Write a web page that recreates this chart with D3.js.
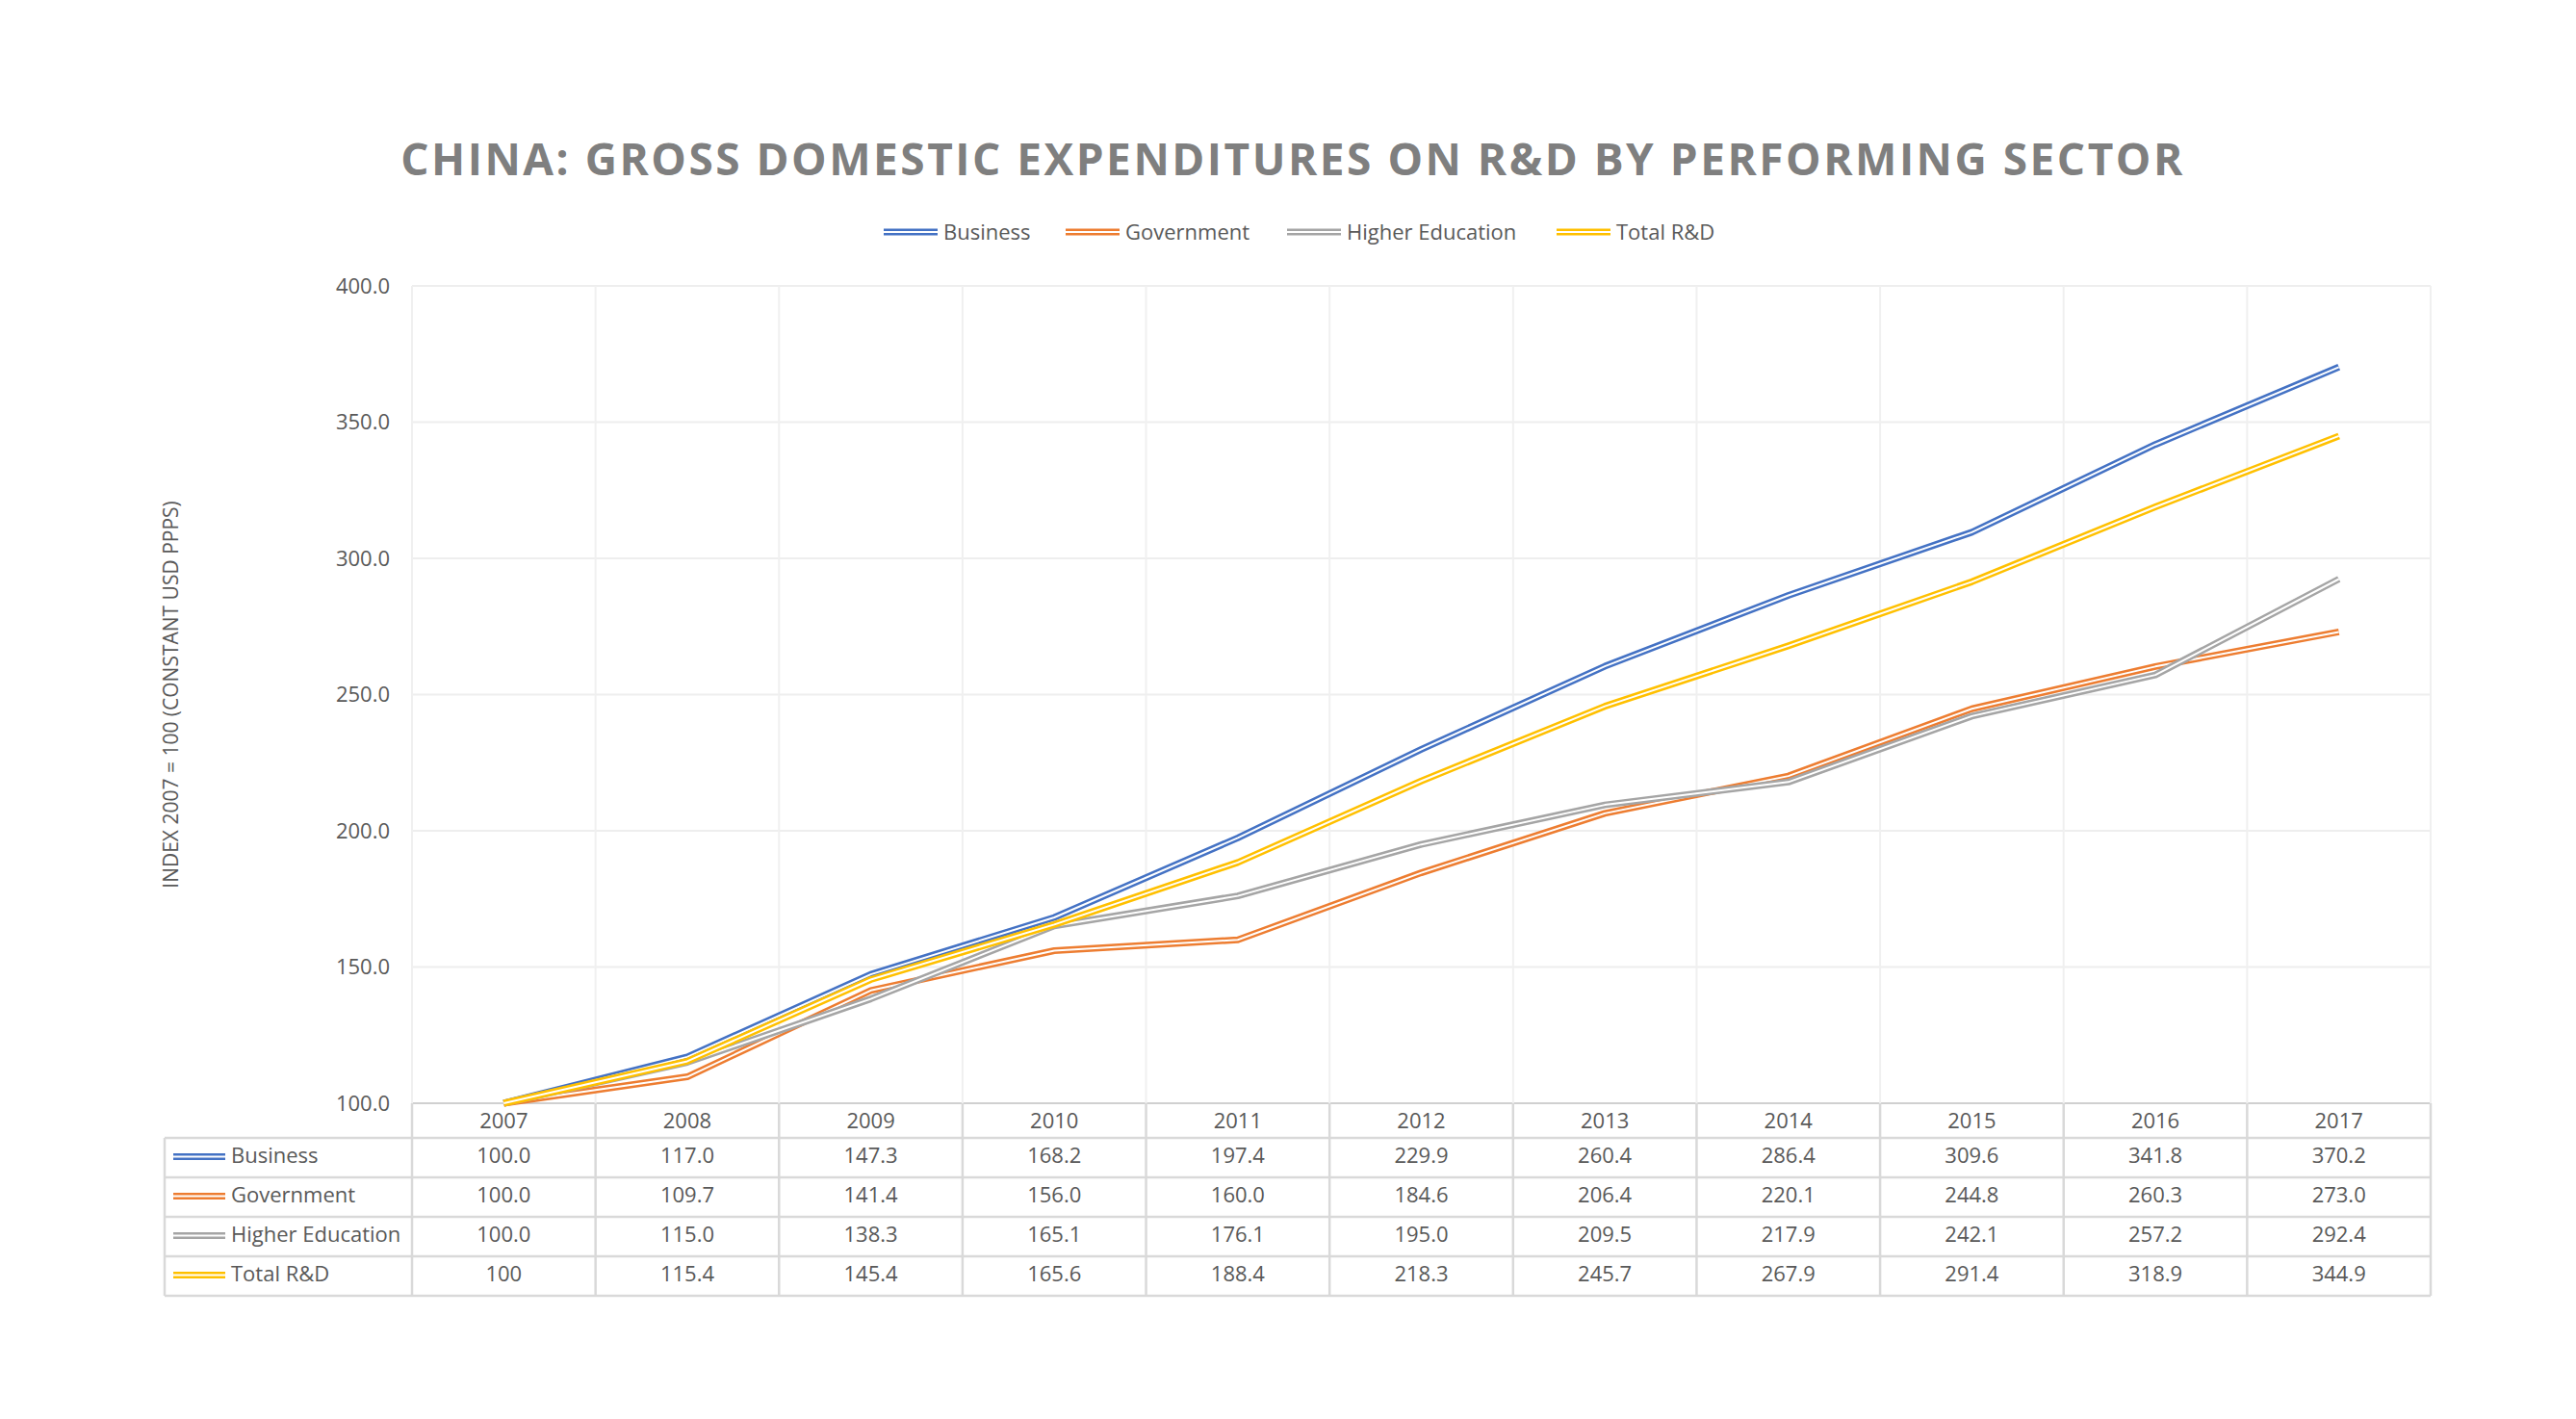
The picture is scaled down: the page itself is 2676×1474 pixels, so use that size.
<!DOCTYPE html>
<html><head><meta charset="utf-8">
<script src="https://cdn.jsdelivr.net/npm/d3@7"></script>
<style>body{margin:0;background:#fff}text{font-family:"Open Sans","Noto Sans",sans-serif}</style>
</head><body>
<script>
const years = ['2007','2008','2009','2010','2011','2012','2013','2014','2015','2016','2017'];
const business = [100.0,117.0,147.3,168.2,197.4,229.9,260.4,286.4,309.6,341.8,370.2];
const government = [100.0,109.7,141.4,156.0,160.0,184.6,206.4,220.1,244.8,260.3,273.0];
const higherEd = [100.0,115.0,138.3,165.1,176.1,195.0,209.5,217.9,242.1,257.2,292.4];
const totalRD = [100,115.4,145.4,165.6,188.4,218.3,245.7,267.9,291.4,318.9,344.9];
const seriesNames = ['Business','Government','Higher Education','Total R&D'];
const seriesColors = ['#4472C4','#ED7D31','#A5A5A5','#FFC000'];
const seriesValues = [business, government, higherEd, totalRD];
const yTicks = [100,150,200,250,300,350,400];
const labelsTotal = ['100','115.4','145.4','165.6','188.4','218.3','245.7','267.9','291.4','318.9','344.9'];

const W = 2676, H = 1474;
const L = 428, R = 2525, T = 297, B = 1146, tableL = 171;
const rowH = 41;
const rowTops = [1182, 1223, 1264, 1305];

const svg = d3.select('body').append('svg').attr('width', W).attr('height', H);
const x = d3.scaleBand().domain(years).range([L, R]);
const y = d3.scaleLinear().domain([100, 400]).range([B, T]);
const txt = '#595959';

// grid
svg.append('g').selectAll('line').data(yTicks).join('line')
  .attr('x1', L).attr('x2', R).attr('y1', d => y(d)).attr('y2', d => y(d))
  .attr('stroke', d => d === 100 ? '#d0d0d0' : '#eeeeee').attr('stroke-width', 2);
svg.append('g').selectAll('line').data(years.concat(['end'])).join('line')
  .attr('x1', (d, i) => L + i * x.step()).attr('x2', (d, i) => L + i * x.step())
  .attr('y1', T).attr('y2', B).attr('stroke', '#f0f0f0').attr('stroke-width', 2);

// y labels
svg.append('g').selectAll('text').data(yTicks).join('text')
  .attr('x', 405).attr('y', d => y(d)).attr('dy', '0.35em').attr('text-anchor', 'end')
  .attr('font-size', 22).attr('fill', txt).text(d => d.toFixed(1));
svg.append('text').attr('transform', `translate(185,${(T + B) / 2}) rotate(-90)`)
  .attr('text-anchor', 'middle').attr('font-size', 21).attr('fill', txt)
  .text('INDEX 2007 = 100 (CONSTANT USD PPPS)');

// lines (double line look)
const line = d3.line().x((d, i) => x(years[i]) + x.bandwidth() / 2).y(d => y(d));
[0, 1, 2, 3].forEach(k => {
  svg.append('path').attr('d', line(seriesValues[k])).attr('fill', 'none')
    .attr('stroke', seriesColors[k]).attr('stroke-width', 7).attr('stroke-linejoin', 'round');
  svg.append('path').attr('d', line(seriesValues[k])).attr('fill', 'none')
    .attr('stroke', '#fff').attr('stroke-width', 2).attr('stroke-linejoin', 'round');
});

// table
const tb = svg.append('g');
const tl = (x1, y1, x2, y2) => tb.append('line').attr('x1', x1).attr('y1', y1).attr('x2', x2).attr('y2', y2)
  .attr('stroke', '#d9d9d9').attr('stroke-width', 2.5);
tl(L, B, L, rowTops[3] + rowH);
tl(R, B, R, rowTops[3] + rowH);
tl(tableL, rowTops[0], tableL, rowTops[3] + rowH);
years.forEach((d, i) => { if (i > 0) tl(L + i * x.step(), B, L + i * x.step(), rowTops[3] + rowH); });
rowTops.forEach(t => tl(tableL, t, R, t));
tl(tableL, rowTops[3] + rowH, R, rowTops[3] + rowH);

tb.selectAll('text.yr').data(years).join('text').attr('class', 'yr')
  .attr('x', d => x(d) + x.bandwidth() / 2).attr('y', (B + rowTops[0]) / 2).attr('dy', '0.35em')
  .attr('text-anchor', 'middle').attr('font-size', 22).attr('fill', txt).text(d => d);

seriesNames.forEach((name, k) => {
  const cy = rowTops[k] + rowH / 2 - 2;
  tb.append('line').attr('x1', 180).attr('x2', 234).attr('y1', cy + 1).attr('y2', cy + 1)
    .attr('stroke', seriesColors[k]).attr('stroke-width', 7);
  tb.append('line').attr('x1', 180).attr('x2', 234).attr('y1', cy + 1).attr('y2', cy + 1)
    .attr('stroke', '#fff').attr('stroke-width', 2);
  tb.append('text').attr('x', 240).attr('y', cy).attr('dy', '0.35em')
    .attr('font-size', 22).attr('fill', txt).text(name);
  const labels = k === 3 ? labelsTotal : seriesValues[k].map(v => v.toFixed(1));
  tb.selectAll(null).data(labels).join('text')
    .attr('x', (d, i) => x(years[i]) + x.bandwidth() / 2).attr('y', cy).attr('dy', '0.35em')
    .attr('text-anchor', 'middle').attr('font-size', 22).attr('fill', txt).text(d => d);
});

// title
svg.append('text').attr('x', 1343).attr('y', 182).attr('text-anchor', 'middle')
  .attr('font-size', 46).attr('font-weight', 'bold').attr('letter-spacing', 2.5).attr('fill', '#7f7f7f')
  .text('CHINA: GROSS DOMESTIC EXPENDITURES ON R&D BY PERFORMING SECTOR');

// legend
const legX = [918, 1107, 1337, 1617];
seriesNames.forEach((name, k) => {
  const g = svg.append('g').attr('transform', `translate(${legX[k]},241)`);
  g.append('line').attr('x1', 0).attr('x2', 56).attr('stroke', seriesColors[k]).attr('stroke-width', 7);
  g.append('line').attr('x1', 0).attr('x2', 56).attr('stroke', '#fff').attr('stroke-width', 2);
  g.append('text').attr('x', 62).attr('dy', '0.35em').attr('font-size', 22).attr('fill', txt).text(name);
});
</script>
</body></html>
